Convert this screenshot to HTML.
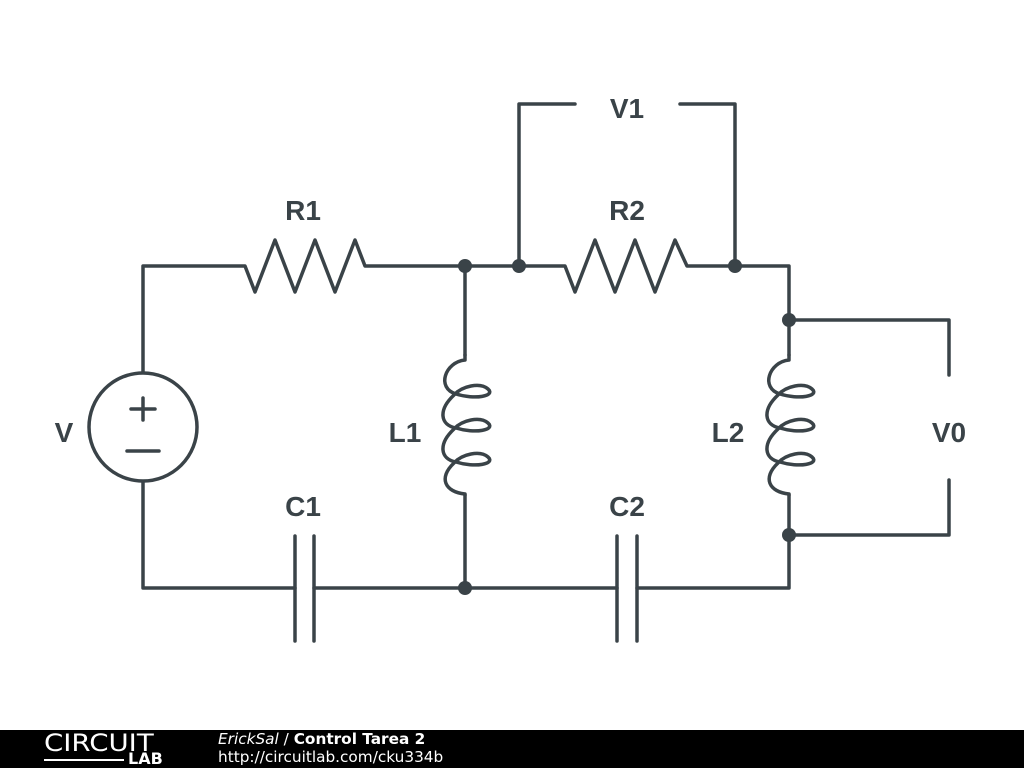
<!DOCTYPE html>
<html><head><style>
body{margin:0;width:1024px;height:768px;background:#fff;overflow:hidden;position:relative;font-family:"Liberation Sans",sans-serif}
#f{position:absolute;left:0;top:730px;width:1024px;height:38px;background:#000;color:#fff}
</style></head><body>
<svg width="1024" height="730" style="position:absolute;left:0;top:0" xmlns="http://www.w3.org/2000/svg">
<g fill="none" stroke="#3a4348" stroke-width="3.5" stroke-linejoin="round" stroke-linecap="round">
<path d="M143,372 V266 H245 L255,292 L275,240 L295,292 L315,240 L335,292 L355,240 L365,266 H565 L575,292 L595,240 L615,292 L635,240 L655,292 L675,240 L687,266 H789 V355"/>
<path d="M789,495 V588 H637 M617,588 H314 M295,588 H143 V482"/>
<path d="M295,536 V641 M314,536 V641 M617,536 V641 M637,536 V641"/>
<circle cx="143" cy="427" r="54"/>
<path d="M143,398 V420 M131,409 H155 M127,451 H159"/>
<path d="M465,266 V355 M465,495 V588"/>
<path d="M519,266 V104 H575 M680,104 H735 V266"/>
<path d="M789,320 H949 V375 M949,480 V535 H789"/>
<g id="ind">
<path d="M465,355 V360 C445,362 436,388 456,394 C475,400 496,396 488,389 C480,382 462,386 454,395 C438,410 440,425 456,428 C475,434 496,430 488,423 C480,416 462,420 454,429 C438,444 440,459 456,462 C475,468 496,464 488,457 C480,450 462,454 454,463 C438,478 445,492 465,494 V495"/>
</g>
<use href="#ind" x="324"/>
</g>
<g fill="#3a4348">
<circle cx="465" cy="266" r="7"/><circle cx="519" cy="266" r="7"/><circle cx="735" cy="266" r="7"/>
<circle cx="789" cy="320" r="7"/><circle cx="789" cy="535" r="7"/><circle cx="465" cy="588" r="7"/>
</g>
<g fill="#3a4348" font-family="Liberation Sans,sans-serif" font-weight="bold" font-size="28" text-anchor="middle">
<text x="303" y="220">R1</text><text x="627" y="220">R2</text><text x="627" y="118">V1</text>
<text x="405" y="442">L1</text><text x="728" y="442">L2</text><text x="949" y="442">V0</text>
<text x="64" y="442">V</text><text x="303" y="516">C1</text><text x="627" y="516">C2</text>
</g>
</svg>
<div id="f">
<div style="position:absolute;left:44px;top:0px;font-family:'DejaVu Sans',sans-serif;font-size:24px;font-weight:normal;line-height:26px;transform:scaleX(1.15);transform-origin:left">CIRCUIT</div>
<div style="position:absolute;left:44px;top:29px;width:80px;height:2px;background:#fff"></div>
<div style="position:absolute;left:128px;top:21px;font-family:'DejaVu Sans',sans-serif;font-size:16px;font-weight:bold;line-height:16px">LAB</div>
<div style="position:absolute;left:218px;top:1px;font-family:'DejaVu Sans',sans-serif;font-size:15.3px;line-height:17px"><i>ErickSal</i> / <b>Control Tarea 2</b></div>
<div style="position:absolute;left:218px;top:19px;font-family:'DejaVu Sans',sans-serif;font-size:15.3px;line-height:17px">http://circuitlab.com/cku334b</div>
</div>
</body></html>
